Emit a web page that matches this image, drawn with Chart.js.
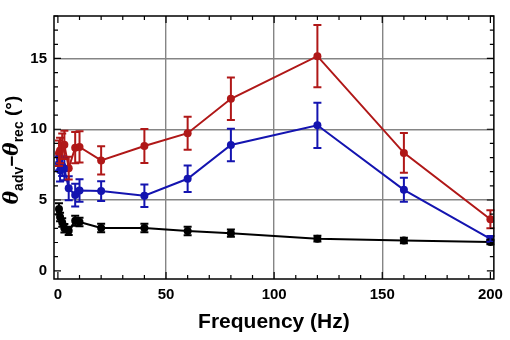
<!DOCTYPE html>
<html>
<head>
<meta charset="utf-8">
<script src="https://cdn.jsdelivr.net/npm/chart.js@4.4.1/dist/chart.umd.min.js"></script>
<style>
  html, body { margin: 0; padding: 0; background: #fff; }
  #wrap { width: 510px; height: 340px; position: relative; }
</style>
</head>
<body>
<div id="wrap"><canvas id="chart"></canvas></div>
<script>
const freqHz = [0.5, 1, 2, 3, 5, 8, 10, 20, 40, 60, 80, 120, 160, 200];

const redVals  = [8.3, 8.5, 8.8, 8.9, 7.25, 8.7, 8.75, 7.8, 8.82, 9.72, 12.15, 15.16, 8.33, 3.64];
const redErr   = [0.9, 0.9, 0.9, 1.0, 0.8, 1.1, 1.1, 1.0, 1.2, 1.17, 1.5, 2.2, 1.4, 0.63];

const blueVals = [7.58, 7.1, 7.4, 7.2, 5.83, 5.35, 5.67, 5.63, 5.3, 6.5, 8.89, 10.28, 5.72, 2.25];
const blueErr  = [0.5, 0.8, 0.7, 0.8, 0.85, 0.8, 0.8, 0.7, 0.8, 0.93, 1.15, 1.6, 0.85, 0.2];

const blackVals = [4.37, 3.8, 3.42, 3.0, 2.82, 3.53, 3.45, 3.02, 3.02, 2.81, 2.66, 2.27, 2.14, 2.03];
const blackErr  = [0.4, 0.3, 0.3, 0.3, 0.3, 0.35, 0.3, 0.3, 0.3, 0.3, 0.25, 0.2, 0.2, 0.15];

const xMajor = [0, 50, 100, 150, 200];
const yMajor = [0, 5, 10, 15];

const colors = {
    red: '#b01818',
    blue: '#1414b0',
    black: '#000000',
    grid: '#858585',
};

function series(vals, errs, color) {
    return {
        data: freqHz.map(function (f, i) { return { x: f, y: vals[i] }; }),
        errors: errs,
        borderColor: color,
        backgroundColor: color,
        borderWidth: 2,
        pointRadius: 4,
        pointHoverRadius: 4,
        pointBorderWidth: 0,
        tension: 0,
    };
}

// error bars, drawn through the chart's own scales
const errorBars = {
    id: 'errorBars',
    afterDatasetsDraw(chart) {
        const ctx = chart.ctx;
        const xs = chart.scales.x, ys = chart.scales.y;
        ctx.save();
        chart.data.datasets.forEach(function (ds) {
            ctx.strokeStyle = ds.borderColor;
            ctx.lineWidth = 2;
            ds.data.forEach(function (p, i) {
                const e = ds.errors[i];
                const px = xs.getPixelForValue(p.x);
                const top = ys.getPixelForValue(p.y + e);
                const bot = ys.getPixelForValue(p.y - e);
                ctx.beginPath();
                ctx.moveTo(px, top); ctx.lineTo(px, bot);
                ctx.moveTo(px - 4, top); ctx.lineTo(px + 4, top);
                ctx.moveTo(px - 4, bot); ctx.lineTo(px + 4, bot);
                ctx.stroke();
            });
        });
        ctx.restore();
    }
};

// frame with inside ticks + rotated y title with subscripts
const frame = {
    id: 'frame',
    afterDraw(chart) {
        const ctx = chart.ctx;
        const a = chart.chartArea;
        const xs = chart.scales.x, ys = chart.scales.y;
        ctx.save();
        ctx.strokeStyle = '#000';
        ctx.lineWidth = 1.5;
        ctx.strokeRect(a.left, a.top, a.right - a.left, a.bottom - a.top);

        ctx.lineWidth = 1.2;
        ctx.beginPath();
        for (let v = 0; v <= 200; v += 10) {
            const px = xs.getPixelForValue(v);
            const len = v % 50 === 0 ? 7 : 4;
            ctx.moveTo(px, a.bottom); ctx.lineTo(px, a.bottom - len);
            ctx.moveTo(px, a.top); ctx.lineTo(px, a.top + len);
        }
        for (let v = 0; v <= 18; v += 1) {
            const py = ys.getPixelForValue(v);
            if (py < a.top) continue;
            const len = v % 5 === 0 ? 7 : 4;
            ctx.moveTo(a.left, py); ctx.lineTo(a.left + len, py);
            ctx.moveTo(a.right, py); ctx.lineTo(a.right - len, py);
        }
        ctx.stroke();

        // y title
        const parts = [
            { t: 'θ', font: 'italic bold 20px "DejaVu Serif"', dy: 0 },
            { t: 'adv', font: 'bold 14px "Liberation Sans"', dy: 5 },
            { t: '−', font: 'bold 19px "Liberation Sans"', dy: 0 },
            { t: 'θ', font: 'italic bold 20px "DejaVu Serif"', dy: 0 },
            { t: 'rec', font: 'bold 14px "Liberation Sans"', dy: 5 },
            { t: ' (°)', font: 'bold 19px "Liberation Sans"', dy: 0 },
        ];
        let total = 0;
        parts.forEach(function (p) { ctx.font = p.font; p.w = ctx.measureText(p.t).width; total += p.w; });
        ctx.translate(18, 150);
        ctx.rotate(-Math.PI / 2);
        ctx.fillStyle = '#000';
        ctx.textBaseline = 'alphabetic';
        let x = -total / 2;
        parts.forEach(function (p) {
            ctx.font = p.font;
            ctx.fillText(p.t, x, p.dy);
            x += p.w;
        });
        ctx.restore();
    }
};

new Chart(document.getElementById('chart'), {
    type: 'line',
    data: {
        datasets: [
            series(blackVals, blackErr, colors.black),
            series(blueVals, blueErr, colors.blue),
            series(redVals, redErr, colors.red),
        ],
    },
    options: {
        responsive: true,
        maintainAspectRatio: false,
        animation: false,
        layout: { padding: { left: 0, right: 12, top: 4, bottom: 0 } },
        plugins: { legend: { display: false }, tooltip: { enabled: false } },
        scales: {
            x: {
                type: 'linear',
                min: -1.8,
                max: 201.6,
                afterBuildTicks: function (s) { s.ticks = xMajor.map(function (v) { return { value: v }; }); },
                afterFit: function (s) { s.height = 61; },
                grid: {
                    drawTicks: false,
                    lineWidth: 1.4,
                    color: function (c) { return (c.tick && c.tick.value > 0 && c.tick.value < 200) ? colors.grid : 'rgba(0,0,0,0)'; },
                },
                border: { display: false },
                ticks: {
                    padding: 7,
                    color: '#000',
                    maxRotation: 0,
                    font: { family: 'Liberation Sans', size: 15, weight: 'bold' },
                },
                title: {
                    display: true,
                    text: 'Frequency (Hz)',
                    color: '#000',
                    padding: { top: 0, bottom: 5 },
                    font: { family: 'Liberation Sans', size: 21, weight: 'bold' },
                },
            },
            y: {
                min: -0.58,
                max: 18,
                afterBuildTicks: function (s) { s.ticks = yMajor.map(function (v) { return { value: v }; }); },
                afterFit: function (s) { s.width = 54; },
                grid: {
                    drawTicks: false,
                    lineWidth: 1.4,
                    color: function (c) { return (c.tick && c.tick.value > 0) ? colors.grid : 'rgba(0,0,0,0)'; },
                },
                border: { display: false },
                ticks: {
                    padding: 7,
                    color: '#000',
                    font: { family: 'Liberation Sans', size: 15, weight: 'bold' },
                },
            },
        },
    },
    plugins: [errorBars, frame],
});
</script>
</body>
</html>
